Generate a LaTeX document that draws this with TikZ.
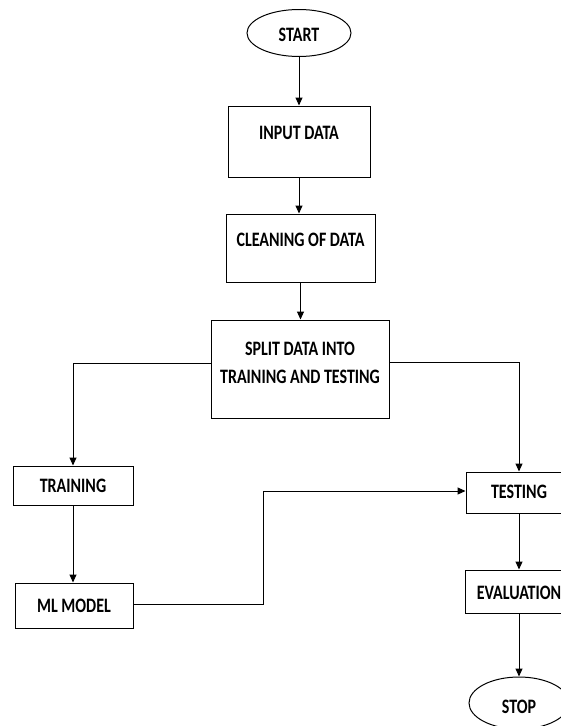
\documentclass[tikz,border=0pt]{standalone}
\usepackage{fontspec}
\setmainfont{Carlito}[FakeStretch=0.78]
\usetikzlibrary{arrows.meta,shapes.geometric}
\begin{document}
\begin{tikzpicture}[x=1pt,y=-1pt,
  box/.style={draw, line width=1pt, rectangle, inner sep=0pt},
  oval/.style={draw, line width=1pt, ellipse, inner sep=0pt},
  lbl/.style={font=\fontsize{20.5}{28}\selectfont\bfseries, text=black, inner sep=0pt, align=center},
  arr/.style={line width=1pt, -{Triangle[length=8pt,width=7pt]}}]
\useasboundingbox (0,0) rectangle (561,726);
\clip (0,0) rectangle (561,726);
\node[oval, minimum width=104pt, minimum height=47pt, label={[lbl,yshift=-2pt]center:START}] (start) at (299,33) {};
\node[box, minimum width=142pt, minimum height=71pt, label={[lbl,yshift=8.5pt]center:INPUT DATA}] (input) at (299,141.5) {};
\node[box, minimum width=149pt, minimum height=68pt, label={[lbl,yshift=8pt]center:CLEANING OF DATA}] (clean) at (300.5,248) {};
\node[box, minimum width=178pt, minimum height=98pt, label={[lbl,yshift=6pt]center:{SPLIT DATA INTO\\TRAINING AND TESTING}}] (split) at (300,369) {};
\node[box, minimum width=120pt, minimum height=39pt, label={[lbl]center:TRAINING}] (train) at (73,485.5) {};
\node[box, minimum width=118pt, minimum height=45pt, label={[lbl]center:ML MODEL}] (ml) at (74,605.5) {};
\node[box, minimum width=106pt, minimum height=41pt, label={[lbl,yshift=1pt]center:TESTING}] (test) at (519,492.5) {};
\node[box, minimum width=108pt, minimum height=43pt, label={[lbl,yshift=-1.5pt]center:EVALUATION}] (eval) at (519,591.5) {};
\node[oval, minimum width=100pt, minimum height=52pt, label={[lbl,yshift=-4pt]center:STOP}] (stop) at (519,703) {};
\coordinate (bend) at (263,0);
\draw[arr] (start) -- (input);
\draw[arr] (input.south) -- (input.south |- clean.north);
\draw[arr] (clean.south) -- (clean.south |- split.north);
\draw[arr] ([yshift=6pt]split.west) -| (train.north);
\draw[arr] ([yshift=7pt]split.east) -| (test.north);
\draw[arr] (train.south) -- (train.south |- ml.north);
\draw[arr] ([yshift=1pt]ml.east) -| ([yshift=1.5pt]bend |- test.west) -- ([yshift=1.5pt]test.west);
\draw[arr] (test) -- (eval);
\draw[arr] (eval) -- (stop);
\end{tikzpicture}
\end{document}
